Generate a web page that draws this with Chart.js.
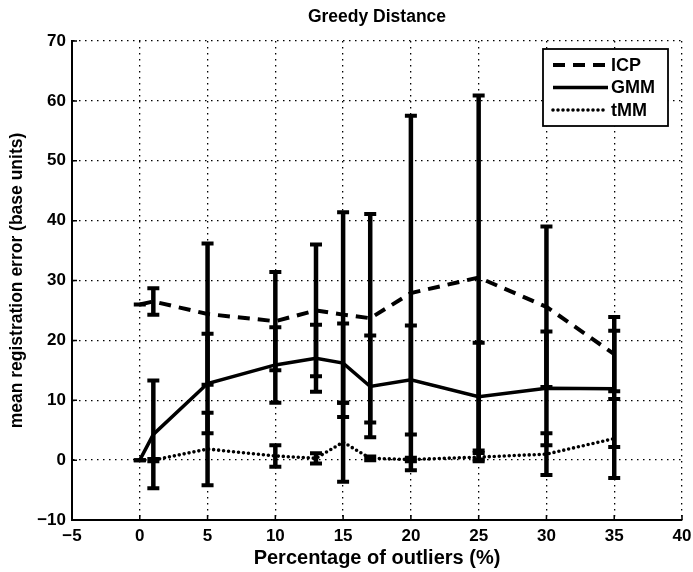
<!DOCTYPE html>
<html lang="en">
<head>
<meta charset="UTF-8">
<title>Greedy Distance</title>
<script src="https://cdn.jsdelivr.net/npm/chart.js"></script>
<style>
  html, body { margin: 0; padding: 0; background: #fff; }
</style>
</head>
<body>
<canvas id="chart" width="693" height="572"></canvas>
<script>
// percentage of outliers and per-method mean error / standard deviation
const outliers = [0, 1, 5, 10, 13, 15, 17, 20, 25, 30, 35];
const icpMean = [26.0, 26.5, 24.4, 23.2, 25.0, 24.3, 23.7, 27.9, 30.5, 25.6, 17.7];
const icpStd  = [0, 2.2, 11.8, 8.2, 11.0, 17.1, 17.4, 29.6, 30.4, 13.4, 6.2];
const gmmMean = [0, 4.3, 12.8, 15.9, 17.0, 16.2, 12.3, 13.4, 10.6, 12.0, 11.9];
const gmmStd  = [0, 9.0, 8.3, 6.3, 5.6, 6.6, 8.5, 9.1, 9.0, 9.5, 9.7];
const tmmMean = [0, 0, 1.85, 0.7, 0.3, 3.0, 0.3, 0.1, 0.5, 1.0, 3.6];
const tmmStd  = [0, 0.2, 6.05, 1.8, 0.85, 6.6, 0.3, 0.3, 0.7, 3.5, 6.6];

const xTicks = [-5, 0, 5, 10, 15, 20, 25, 30, 35, 40];
const yTicks = [-10, 0, 10, 20, 30, 40, 50, 60, 70];

const FONT = "'Liberation Sans', Arial, Helvetica, sans-serif";
const errs = [icpStd, gmmStd, tmmStd];

function fmt(v) {
    return v < 0 ? '\u2212' + Math.abs(v) : String(v);
}

function points(means) {
    return outliers.map((x, i) => ({ x: x, y: means[i] }));
}

// vertical error bars with caps, one set per series
const errorBars = {
    id: 'errorBars',
    afterDatasetsDraw(chart) {
        const ctx = chart.ctx;
        const xs = chart.scales.x, ys = chart.scales.y;
        ctx.save();
        ctx.strokeStyle = '#000';
        ctx.lineCap = 'butt';
        chart.data.datasets.forEach((ds, d) => {
            ds.data.forEach((p, i) => {
                const s = errs[d][i];
                const px = xs.getPixelForValue(p.x);
                const top = ys.getPixelForValue(p.y + s);
                const bot = ys.getPixelForValue(p.y - s);
                ctx.lineWidth = 4.5;
                ctx.beginPath();
                ctx.moveTo(px, top);
                ctx.lineTo(px, bot);
                ctx.stroke();
                ctx.lineWidth = 4;
                ctx.beginPath();
                ctx.moveTo(px - 6, top);
                ctx.lineTo(px + 6, top);
                ctx.moveTo(px - 6, bot);
                ctx.lineTo(px + 6, bot);
                ctx.stroke();
            });
        });
        ctx.restore();
    }
};

// inward tick marks and the boxed legend in the upper right
const decorations = {
    id: 'decorations',
    afterDraw(chart) {
        const ctx = chart.ctx;
        const area = chart.chartArea;
        const xs = chart.scales.x, ys = chart.scales.y;
        ctx.save();
        ctx.strokeStyle = '#000';
        ctx.lineWidth = 1.5;
        ctx.beginPath();
        xTicks.forEach(v => {
            const px = xs.getPixelForValue(v);
            ctx.moveTo(px, area.bottom);
            ctx.lineTo(px, area.bottom - 5);
        });
        yTicks.forEach(v => {
            const py = ys.getPixelForValue(v);
            ctx.moveTo(area.left, py);
            ctx.lineTo(area.left + 5, py);
        });
        ctx.stroke();

        const bw = 125, bh = 77;
        const bx = area.right - 14 - bw;
        const by = area.top + 8;
        ctx.fillStyle = '#fff';
        ctx.fillRect(bx, by, bw, bh);
        ctx.lineWidth = 1.8;
        ctx.strokeRect(bx, by, bw, bh);

        ctx.font = 'bold 18px ' + FONT;
        ctx.textBaseline = 'middle';
        ctx.fillStyle = '#000';
        chart.data.datasets.forEach((ds, i) => {
            const ly = by + 16 + i * 22.5;
            ctx.save();
            ctx.lineWidth = ds.borderWidth;
            ctx.setLineDash(ds.borderDash || []);
            ctx.lineCap = ds.borderCapStyle || 'butt';
            ctx.beginPath();
            ctx.moveTo(bx + 10, ly);
            ctx.lineTo(bx + 65, ly);
            ctx.stroke();
            ctx.restore();
            ctx.fillText(ds.label, bx + 68, ly + 1);
        });
        ctx.restore();
    }
};

const tickFont = { family: FONT, size: 17, weight: 'bold' };

new Chart(document.getElementById('chart'), {
    type: 'line',
    data: {
        datasets: [
            {
                label: 'ICP',
                data: points(icpMean),
                borderColor: '#000',
                borderWidth: 4,
                borderDash: [12, 8],
                pointRadius: 0,
                fill: false
            },
            {
                label: 'GMM',
                data: points(gmmMean),
                borderColor: '#000',
                borderWidth: 3.5,
                pointRadius: 0,
                fill: false
            },
            {
                label: 'tMM',
                data: points(tmmMean),
                borderColor: '#000',
                borderWidth: 3.6,
                borderDash: [0, 5],
                borderCapStyle: 'round',
                pointRadius: 0,
                fill: false
            }
        ]
    },
    options: {
        responsive: false,
        animation: false,
        devicePixelRatio: 1,
        layout: { padding: { left: 0, right: 11, top: 0, bottom: 0 } },
        plugins: {
            legend: { display: false },
            tooltip: { enabled: false },
            title: {
                display: true,
                text: 'Greedy Distance',
                fullSize: false,
                color: '#000',
                font: { family: FONT, size: 17.5, weight: 'bold' },
                padding: { top: 7, bottom: 13 }
            }
        },
        scales: {
            x: {
                type: 'linear',
                min: -5,
                max: 40,
                afterBuildTicks: s => { s.ticks = xTicks.map(v => ({ value: v })); },
                afterFit: s => { s.height = 52; s.paddingLeft = 0; s.paddingRight = 0; },
                ticks: { color: '#000', font: tickFont, padding: 6, maxRotation: 0, callback: fmt },
                grid: { color: '#000', lineWidth: 1.3, drawTicks: false },
                border: { display: true, color: '#000', width: 2, dash: [1.5, 4.5] },
                title: {
                    display: true,
                    text: 'Percentage of outliers (%)',
                    color: '#000',
                    font: { family: FONT, size: 20, weight: 'bold' },
                    padding: { top: 0, bottom: 2 }
                }
            },
            y: {
                type: 'linear',
                min: -10,
                max: 70,
                afterBuildTicks: s => { s.ticks = yTicks.map(v => ({ value: v })); },
                afterFit: s => { s.width = 72; },
                ticks: { color: '#000', font: tickFont, padding: 6, callback: fmt },
                grid: { color: '#000', lineWidth: 1.3, drawTicks: false },
                border: { display: true, color: '#000', width: 2, dash: [1.5, 4.5] },
                title: {
                    display: true,
                    text: 'mean registration error (base units)',
                    color: '#000',
                    font: { family: FONT, size: 17.5, weight: 'bold' },
                    padding: { top: 7, bottom: 0 }
                }
            }
        }
    },
    plugins: [errorBars, decorations]
});
</script>
</body>
</html>
